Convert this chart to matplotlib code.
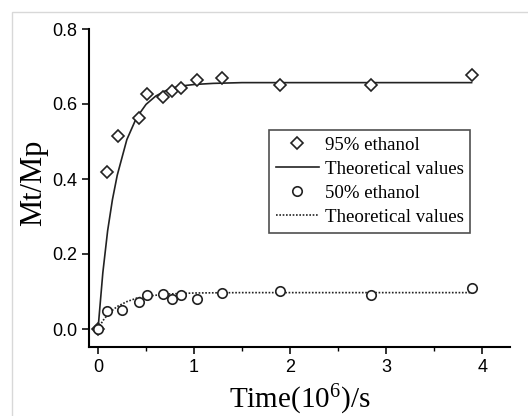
import matplotlib.pyplot as plt
from matplotlib.patches import Rectangle
from matplotlib.ticker import MultipleLocator

# measured data, 95% ethanol
t95 = [0.0, 0.09, 0.21, 0.43, 0.51, 0.68, 0.77, 0.86, 1.03, 1.29, 1.89, 2.84, 3.89]
m95 = [0.0, 0.42, 0.515, 0.563, 0.627, 0.618, 0.635, 0.643, 0.664, 0.669, 0.651, 0.651, 0.677]

# measured data, 50% ethanol
t50 = [0.0, 0.09, 0.25, 0.43, 0.51, 0.68, 0.77, 0.86, 1.03, 1.29, 1.89, 2.84, 3.89]
m50 = [0.0, 0.048, 0.051, 0.072, 0.091, 0.093, 0.080, 0.091, 0.080, 0.096, 0.101, 0.091, 0.109]

# theoretical curves
tc = [0.0, 0.05, 0.1, 0.15, 0.2, 0.3, 0.4, 0.5, 0.6, 0.7, 0.8, 0.9, 1.0, 1.2, 1.5, 2.0, 3.0, 3.89]
c95 = [0.0, 0.150, 0.262, 0.345, 0.410, 0.505, 0.563, 0.599, 0.621, 0.635, 0.644, 0.649,
       0.652, 0.655, 0.657, 0.657, 0.657, 0.657]
c50 = [0.0, 0.022, 0.038, 0.050, 0.060, 0.073, 0.082, 0.087, 0.090, 0.093, 0.094, 0.095,
       0.096, 0.0965, 0.097, 0.097, 0.097, 0.097]

serif = 'Liberation Serif'
plt.rcParams['mathtext.fontset'] = 'custom'
plt.rcParams['mathtext.rm'] = serif
plt.rcParams['mathtext.it'] = serif + ':italic'
plt.rcParams['mathtext.default'] = 'regular'

fig = plt.figure(figsize=(5.28, 4.16), dpi=100)
fig.patches.append(Rectangle((12/528, -0.1), 1.2, 1 - 12/416 + 0.1, transform=fig.transFigure,
                             fill=False, edgecolor='#d8d8d8', linewidth=1.0))
ax = fig.add_axes([89/528, 69/416, 421/528, 318/416])

ax.plot(t95, m95, linestyle='none', marker='D', markersize=6.3, markerfacecolor='white',
        markeredgecolor='#222222', markeredgewidth=1.2, label='95% ethanol', zorder=3)
ax.plot(tc, c95, color='#222222', linewidth=1.2, label='Theoretical values')
ax.plot(t50, m50, linestyle='none', marker='o', markersize=6.8, markerfacecolor='white',
        markeredgecolor='#222222', markeredgewidth=1.2, label='50% ethanol', zorder=3)
ax.plot(tc, c50, color='#222222', linewidth=1.2, linestyle=(0, (1, 1)), label='Theoretical values')

ax.set_xlim(-0.094, 4.29)
ax.set_ylim(-0.048, 0.8)
ax.spines['top'].set_visible(False)
ax.spines['right'].set_visible(False)
ax.spines['left'].set_linewidth(1.5)
ax.spines['bottom'].set_linewidth(1.5)

ax.xaxis.set_major_locator(MultipleLocator(1))
ax.xaxis.set_minor_locator(MultipleLocator(0.5))
ax.yaxis.set_major_locator(MultipleLocator(0.2))
ax.tick_params(axis='both', which='major', direction='out', length=5, width=1.3, color='#222222',
               labelsize=13)
ax.tick_params(axis='x', which='minor', direction='out', length=3, width=1.0)
ax.set_yticklabels([f'{v:.1f}' for v in ax.get_yticks()])
for lbl in ax.get_xticklabels() + ax.get_yticklabels():
    lbl.set_fontfamily('Liberation Sans')

ax.set_xlabel('Time$(10^6)$/s', fontfamily=serif, fontsize=21)
ax.xaxis.set_label_coords(0.5, -0.113)
ax.set_ylabel('Mt/Mp', fontfamily=serif, fontsize=22)
ax.yaxis.set_label_coords(-0.097, 0.515)

leg = ax.legend(loc='upper left', bbox_to_anchor=(0.4276, 0.682), prop={'family': serif, 'size': 13.6},
                frameon=True, fancybox=False, edgecolor='#222222', handlelength=2.3,
                handletextpad=0.3, borderpad=0.35, labelspacing=0.36, borderaxespad=0)
leg.get_frame().set_linewidth(1.2)

fig.savefig('out.png', dpi=100)
